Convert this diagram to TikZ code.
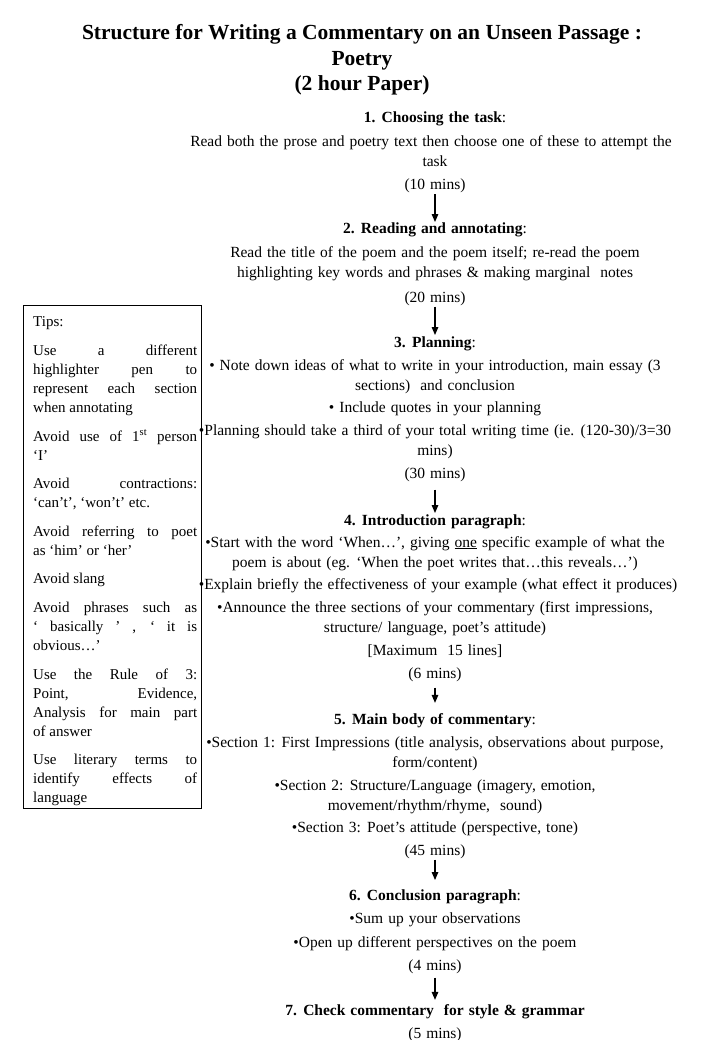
\documentclass[tikz,border=0pt]{standalone}
\usepackage{fontspec}
\setmainfont{Liberation Serif}
\usetikzlibrary{arrows.meta}
\newcommand{\lnfont}{\fontsize{15.5}{20}\selectfont\setlength{\spaceskip}{5pt plus 1pt minus 1pt}}
\tikzset{
  ttl/.style={anchor=base, inner sep=1pt, font=\fontsize{21.5}{25}\selectfont\bfseries},
  ln/.style={anchor=base, inner sep=1pt, font=\lnfont},
  arr/.style={-{Triangle[length=8pt,width=6.5pt]}, line width=1.3pt},
  tipsbox/.style={draw, line width=1pt, minimum width=178pt, minimum height=503pt, anchor=north west, inner sep=0pt},
  tipstext/.style={anchor=north west, inner sep=0pt, text width=164pt, align=justify,
    font=\fontsize{15}{19}\selectfont},
}
\newcommand{\tipgap}{\par\vspace{9.6pt}}
\begin{document}
\begin{tikzpicture}[x=1pt,y=-1pt]
\useasboundingbox (0,0) rectangle (720,1040);
% title
\node[ttl] (title1) at (362,40) {Structure for Writing a Commentary on an Unseen Passage :};
\node[ttl] (title2) at (362,66) {Poetry};
\node[ttl] (title3) at (362,91) {(2 hour Paper)};
% step 1
\node[ln] (h1) at (435,123) {{\bfseries 1. Choosing the task}:};
\node[ln] (t1a) at (431,147) {Read both the prose and poetry text then choose one of these to attempt the};
\node[ln] (t1b) at (435,167) {task};
\node[ln] (m1) at (435,190) {(10 mins)};
% step 2
\node[ln] (h2) at (435,234) {{\bfseries 2. Reading and annotating}:};
\node[ln] (t2a) at (435,258) {Read the title of the poem and the poem itself; re-read the poem};
\node[ln] (t2b) at (435,278) {highlighting key words and phrases \& making marginal\ \ notes};
\node[ln] (m2) at (435,302) {(20 mins)};
% step 3
\node[ln] (h3) at (435,347) {{\bfseries 3. Planning}:};
\node[ln] (t3a) at (435,370) {• Note down ideas of what to write in your introduction, main essay (3};
\node[ln] (t3b) at (435,390) {sections)\ \ and conclusion};
\node[ln] (t3c) at (435,412) {• Include quotes in your planning};
\node[ln] (t3d) at (435,435) {•Planning should take a third of your total writing time (ie. (120-30)/3=30};
\node[ln] (t3e) at (435,455) {mins)};
\node[ln] (m3) at (435,478) {(30 mins)};
% step 4
\node[ln] (h4) at (435,525) {{\bfseries 4. Introduction paragraph}:};
\node[ln] (t4a) at (435,547) {•Start with the word ‘When…’, giving \underline{one} specific example of what the};
\node[ln] (t4b) at (435,567) {poem is about (eg. ‘When the poet writes that…this reveals…’)};
\node[ln] (t4c) at (438,589) {•Explain briefly the effectiveness of your example (what effect it produces)};
\node[ln] (t4d) at (435,612) {•Announce the three sections of your commentary (first impressions,};
\node[ln] (t4e) at (435,632) {structure/ language, poet’s attitude)};
\node[ln] (t4f) at (435,655) {[Maximum\ \ 15 lines]};
\node[ln] (m4) at (435,678) {(6 mins)};
% step 5
\node[ln] (h5) at (435,724) {{\bfseries 5. Main body of commentary}:};
\node[ln] (t5a) at (435,747) {•Section 1: First Impressions (title analysis, observations about purpose,};
\node[ln] (t5b) at (435,767) {form/content)};
\node[ln] (t5c) at (435,790) {•Section 2: Structure/Language (imagery, emotion,};
\node[ln] (t5d) at (435,810) {movement/rhythm/rhyme,\ \ sound)};
\node[ln] (t5e) at (435,832) {•Section 3: Poet’s attitude (perspective, tone)};
\node[ln] (m5) at (435,855) {(45 mins)};
% step 6
\node[ln] (h6) at (435,900) {{\bfseries 6. Conclusion paragraph}:};
\node[ln] (t6a) at (435,923) {•Sum up your observations};
\node[ln] (t6b) at (435,947) {•Open up different perspectives on the poem};
\node[ln] (m6) at (435,970) {(4 mins)};
% step 7
\node[ln] (h7) at (435,1015) {{\bfseries 7. Check commentary\ \ for style \& grammar}};
\node[ln] (m7) at (435,1038) {(5 mins)};
% arrows
\draw[arr] (m1.south) -- (h2.north);
\draw[arr] (m2.south) -- (h3.north);
\draw[arr, shorten <=7pt] (m3.south) -- (h4.north);
\draw[arr, shorten <=5pt, shorten >=9pt] (m4.south) -- (h5.north);
\draw[arr, shorten >=8pt] (m5.south) -- (h6.north);
\draw[arr, shorten <=3pt, shorten >=3pt] (m6.south) -- (h7.north);
% tips
\node[tipsbox] (tips) at (23,305) {};
\node[tipstext] (tipstxt) at (33,316.8) {\parindent=0pt\hyphenpenalty=10000\tolerance=10000\relax
Tips:\tipgap
Use a different\linebreak highlighter pen to\linebreak represent each section\linebreak when annotating\tipgap
Avoid use of 1\textsuperscript{st} person\linebreak ‘I’\tipgap
Avoid contractions:\linebreak ‘can’t’, ‘won’t’ etc.\tipgap
Avoid referring to poet\linebreak as ‘him’ or ‘her’\tipgap
Avoid slang\tipgap
Avoid phrases such as\linebreak ‘ basically ’ , ‘ it is\linebreak obvious…’\tipgap
Use the Rule of 3:\linebreak Point, Evidence,\linebreak Analysis for main part\linebreak of answer\tipgap
Use literary terms to\linebreak identify effects of\linebreak language};
\end{tikzpicture}
\end{document}
